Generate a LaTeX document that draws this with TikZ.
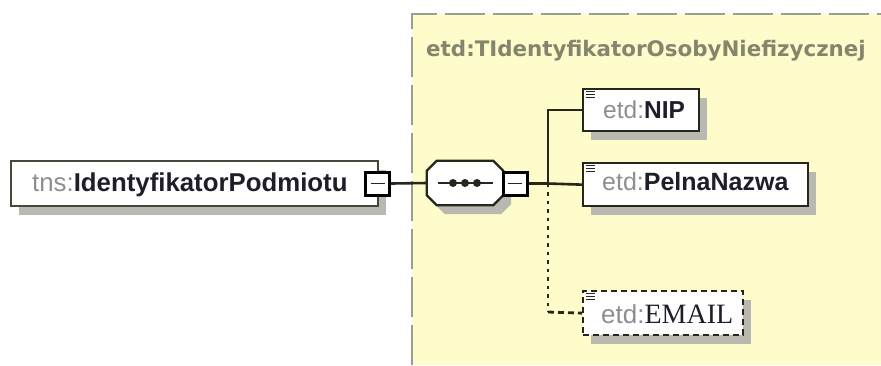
\documentclass[tikz,border=0pt]{standalone}
\usepackage{fontspec}
\setmainfont{Liberation Sans}
\newfontfamily\serifemail{Liberation Serif}
\newfontfamily\titlefont{DejaVu Sans}
\usetikzlibrary{shadows}
\definecolor{yel}{HTML}{FFFCCB}
\definecolor{bord}{HTML}{9C9C92}
\definecolor{pfx}{HTML}{8E8E8E}
\definecolor{nm}{HTML}{1E1E2A}
\definecolor{ttl}{HTML}{85856E}
\definecolor{shd}{HTML}{B9B9B2}
\definecolor{ln}{HTML}{26261A}
\begin{document}
\begin{tikzpicture}[x=1pt,y=-1pt,
  box/.style={draw=ln, line width=2.3pt, fill=white, inner sep=0pt,
    general shadow={fill=shd, draw=none, shadow xshift=8pt, shadow yshift=-9pt}},
  minusbox/.style={draw=black, line width=3pt, fill=white, inner sep=0pt,
    minimum width=24pt, minimum height=23pt},
  conn/.style={draw=ln, line width=2.6pt},
  optconn/.style={draw=ln, line width=2.8pt, dash pattern=on 3.5pt off 5pt},
  optconnh/.style={draw=ln, line width=2.8pt, dash pattern=on 6pt off 4pt},
  lbl/.style={anchor=base west, inner sep=0pt},
  icon/.style={draw=ln, line width=1pt}]
\useasboundingbox (0,0) rectangle (881,365);
% yellow complex-type area
\fill[yel] (412,14) rectangle (881,365);
\draw[bord, line width=2.4pt, dash pattern=on 40pt off 8pt] (412,365) -- (412,14) -- (881,14);
\node[lbl, font=\titlefont\bfseries\fontsize{21.4}{25}\selectfont, text=ttl] (title) at (426,56) {etd:TIdentyfikatorOsobyNiefizycznej};
% left element
\node[box, draw=ln!85, line width=2pt, minimum width=367pt, minimum height=45pt, anchor=north west] (root) at (10,160) {};
\node[lbl, font=\fontsize{25.8}{30}\selectfont] (roottxt) at (32,191) {\textcolor{pfx}{tns:}\textcolor{nm}{\bfseries IdentyfikatorPodmiotu}};
\node[minusbox] (lminus) at (377.5,183.5) {};
\draw[ln, line width=1.5pt] ([xshift=-7pt]lminus.center) -- ([xshift=7pt]lminus.center);
% sequence compositor
\node[inner sep=0pt, minimum width=76pt, minimum height=44pt] (seq) at (465,183) {};
\fill[shd, transform canvas={shift={(8pt,-9pt)}}]
  ([xshift=10pt]seq.north west) -- ([xshift=-10pt]seq.north east) -- ([yshift=-10pt]seq.north east)
  -- ([yshift=10pt]seq.south east) -- ([xshift=-10pt]seq.south east) -- ([xshift=10pt]seq.south west)
  -- ([yshift=10pt]seq.south west) -- ([yshift=-10pt]seq.north west) -- cycle;
\draw[draw=ln, fill=white, line width=2.3pt]
  ([xshift=10pt]seq.north west) -- ([xshift=-10pt]seq.north east) -- ([yshift=-10pt]seq.north east)
  -- ([yshift=10pt]seq.south east) -- ([xshift=-10pt]seq.south east) -- ([xshift=10pt]seq.south west)
  -- ([yshift=10pt]seq.south west) -- ([yshift=-10pt]seq.north west) -- cycle;
\draw[ln, line width=1.6pt] ([xshift=-27pt]seq.center) -- ([xshift=28pt]seq.center);
\foreach \dx in {-12,0,12} \fill[ln] ([xshift=\dx pt]seq.center) circle (4pt);
\node[minusbox] (sminus) at (515,183.5) {};
\draw[ln, line width=1.5pt] ([xshift=-7pt]sminus.center) -- ([xshift=7pt]sminus.center);
% children
\node[box, minimum width=116pt, minimum height=42pt, anchor=north west] (nip) at (582,88) {};
\node[box, minimum width=225pt, minimum height=43pt, anchor=north west] (pelna) at (582,162) {};
\node[box, dash pattern=on 6pt off 4pt, minimum width=160pt, minimum height=44pt, anchor=north west] (email) at (582,290) {};
\node[lbl, font=\fontsize{24.5}{29}\selectfont] (niptxt) at (603,118) {\textcolor{pfx}{etd:}\textcolor{nm}{\bfseries NIP}};
\node[lbl, font=\fontsize{25}{30}\selectfont] (pelnatxt) at (602,190) {\textcolor{pfx}{etd:}\textcolor{nm}{\bfseries PelnaNazwa}};
\node[lbl, font=\fontsize{26}{31}\selectfont] (emailtxt) at (601,323) {\textcolor{pfx}{etd:}\textcolor{nm}{\serifemail\fontsize{28}{32}\selectfont EMAIL}};
\foreach \b in {nip,pelna,email} {
  \foreach \dy in {3.5,6.5,9.5}
    \draw[icon] ([xshift=4pt,yshift=-\dy pt]\b.north west) -- ([xshift=13pt,yshift=-\dy pt]\b.north west);
}
% connectors
\coordinate (jn) at (548,183.5);
\coordinate (jc) at (548,312);
\draw[conn] (lminus.east) -- (seq.west);
\draw[conn] (sminus.east) -- (jn);
\draw[conn] (jn) -- (pelna.west);
\draw[conn] (jn) |- (nip.west);
\draw[optconn] (jn) -- (jc);
\draw[optconnh] (jc) -- (email.west);
\end{tikzpicture}
\end{document}
